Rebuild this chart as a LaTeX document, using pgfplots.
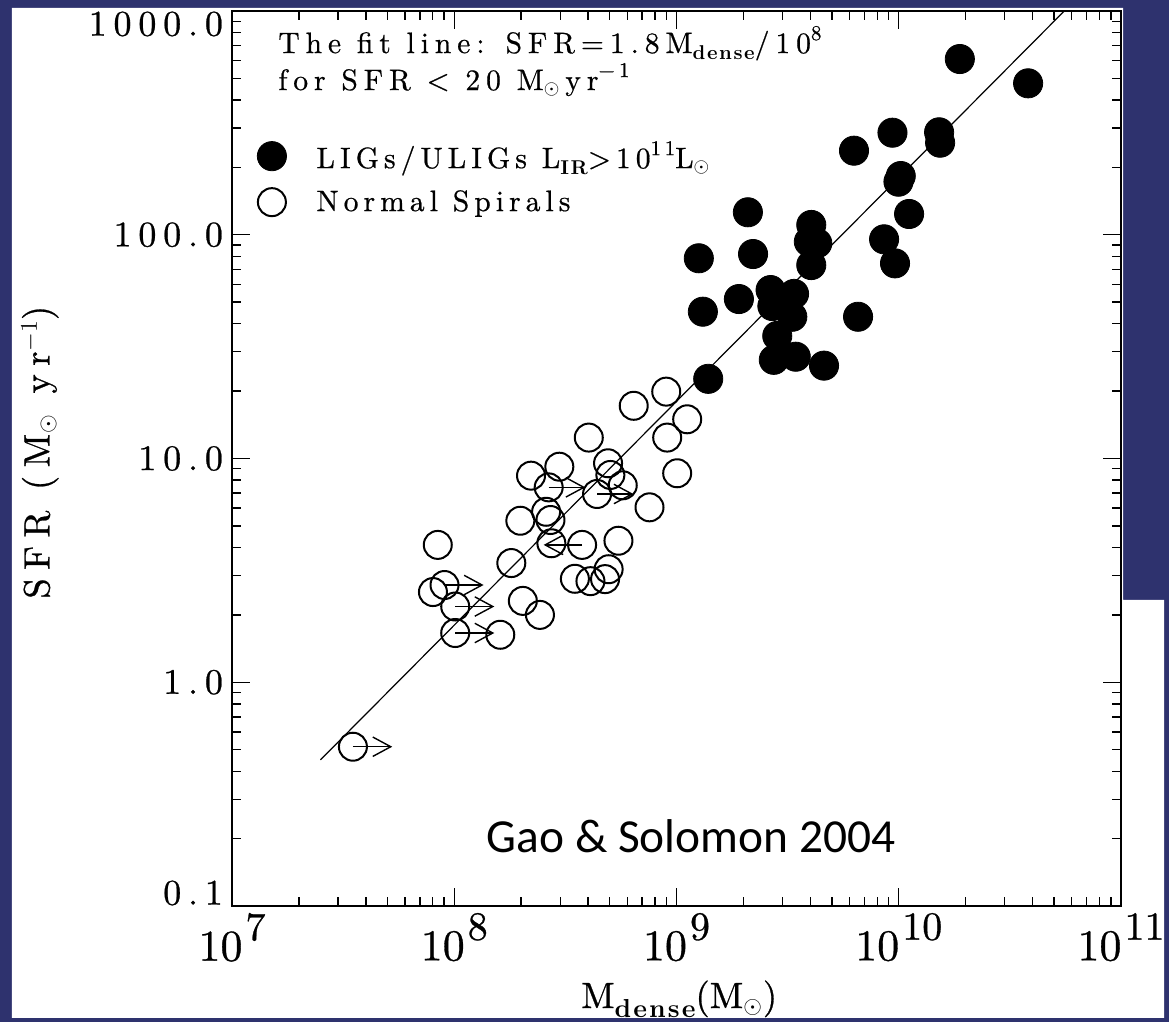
\documentclass[border=0pt]{standalone}
\usepackage{fontspec}
\usepackage{pgfplots}
\pgfplotsset{compat=1.18}
\usepackage{pgfplotstable}
\usetikzlibrary{arrows.meta}
\newfontfamily\calib{Carlito}
\newfontfamily\tickf{lmroman10-regular.otf}[LetterSpace=19, FakeBold=0.7]
\newfontfamily\xtickf{lmroman10-regular.otf}[FakeBold=0.7]
\newfontfamily\txtf{lmroman10-regular.otf}[LetterSpace=20, FakeBold=0.6]
\newfontfamily\legf{lmroman10-regular.otf}[LetterSpace=17, FakeBold=0.6]
\newfontfamily\labf{lmroman10-regular.otf}[LetterSpace=23, FakeBold=0.7]
\newfontfamily\subf{lmroman10-bold.otf}[LetterSpace=8]
\definecolor{bgblue}{RGB}{46,50,110}
\newcommand\tlx[1]{10\hspace{1.5pt}\raisebox{10.3pt}{\fontsize{20}{20}\selectfont #1}}
\newcommand\tsub[1]{\raisebox{-3pt}{\subf\fontsize{10}{10}\selectfont #1}}
\newcommand\tsup[1]{\raisebox{6.5pt}{\fontsize{10.5}{11}\selectfont #1}}

\pgfplotstableread{
x y
3.50e7 0.515
6.42e8 17.2
8.99e8 19.9
1.117e9 14.97
9.08e8 12.4
4.03e8 12.4
1.007e9 8.59
7.56e8 6.05
4.92e8 9.52
5.04e8 8.44
5.73e8 7.59
4.39e8 6.94
2.215e8 8.38
2.97e8 9.19
2.66e8 7.43
2.59e8 5.78
2.71e8 5.31
1.983e8 5.27
2.735e8 4.18
3.76e8 4.11
5.48e8 4.29
4.95e8 3.20
3.49e8 2.90
4.10e8 2.83
4.77e8 2.89
1.806e8 3.41
8.43e7 4.11
9.04e7 2.72
8.02e7 2.53
1.01e8 2.18
1.01e8 1.66
1.611e8 1.63
2.035e8 2.31
2.43e8 2.00
}\normalpts

\pgfplotstableread{
x y
2.095e9 126
1.26e9 78.5
2.21e9 82.0
4.04e9 110.6
3.94e9 93.1
4.30e9 91.6
4.04e9 73.2
1.113e10 123.8
8.59e9 95.4
9.62e9 74.5
1.314e9 45.3
1.909e9 51.6
2.65e9 56.6
3.38e9 54.4
2.70e9 48.0
3.32e9 43.0
2.84e9 35.3
2.74e9 27.6
3.44e9 28.5
4.61e9 26.0
6.56e9 43.0
1.389e9 22.7
1.883e10 610
3.82e10 475
9.37e9 285.8
6.29e9 237.5
1.519e10 287
1.535e10 257.8
1.021e10 183
9.97e9 172.6
}\ligpts

\begin{document}
\begin{tikzpicture}
\useasboundingbox (-116pt,-58pt) rectangle (468.5pt,453pt);
\clip (-116pt,-58pt) rectangle (468.5pt,453pt);
\fill[bgblue] (-116pt,-58pt) rectangle (468.5pt,453pt);
\fill[white] (-110pt,-56pt) -- (-110pt,449pt) -- (445.5pt,449pt) -- (445.5pt,153pt) -- (466pt,153pt) -- (466pt,-56pt) -- cycle;
\begin{axis}[
  at={(0pt,0pt)}, anchor=south west,
  scale only axis, width=444.5pt, height=447.5pt,
  xmode=log, ymode=log,
  xmin=1e7, xmax=1e11, ymin=0.1, ymax=1000,
  xtick={1e7,1e8,1e9,1e10,1e11},
  xticklabels={\tlx{7},\tlx{8},\tlx{9},\tlx{10},\tlx{11}},
  ytick={0.1,1,10,100,1000},
  yticklabels={\raisebox{6.5pt}[\height][\depth]{0.1},1.0,10.0,100.0,\raisebox{-6.5pt}[\height][\depth]{1000.0}},
  minor xtick={2e7,3e7,4e7,5e7,6e7,7e7,8e7,9e7,2e8,3e8,4e8,5e8,6e8,7e8,8e8,9e8,2e9,3e9,4e9,5e9,6e9,7e9,8e9,9e9,2e10,3e10,4e10,5e10,6e10,7e10,8e10,9e10},
  minor ytick={0.2,0.3,0.4,0.5,0.6,0.7,0.8,0.9,2,3,4,5,6,7,8,9,20,30,40,50,60,70,80,90,200,300,400,500,600,700,800,900},
  tick align=inside,
  major tick length=9pt, minor tick length=4.5pt,
  tick style={line width=0.7pt, black},
  axis line style={line width=1pt},
  xticklabel style={font=\xtickf\fontsize{22}{24}\selectfont},
  yticklabel style={font=\tickf\fontsize{18}{20}\selectfont, xshift=-1pt},
  xlabel={M\raisebox{-4.5pt}{\subf\fontsize{13}{13}\selectfont dense}(M$_\odot$)},
  xlabel style={font=\xtickf\fontsize{18.3}{20}\selectfont, at={(rel axis cs:0.503,-0.114)}, anchor=base},
  ylabel={SFR (M$_\odot$ yr$^{-1}$)},
  ylabel style={font=\labf\fontsize{18.3}{20}\selectfont, at={(rel axis cs:-0.216,0.507)}, anchor=center, rotate=0},
  legend style={at={(rel axis cs:0.028,0.855)}, anchor=north west, draw=none, fill=none,
    font=\legf\fontsize{14.8}{18}\selectfont, row sep=8.5pt, inner sep=0pt,
    nodes={inner sep=0pt}, column sep=15pt},
  legend cell align=left,
  legend image code/.code={\draw[#1] plot coordinates {(0pt,0pt)};},
]
\addplot[only marks, mark=*, mark size=7.3pt, black, mark options={fill=black, line width=0.4pt}] table {\ligpts};
\addlegendentry{LIGs/ULIGs L\tsub{IR}>10\tsup{11}L$_\odot$}
\addplot[only marks, mark=o, mark size=7pt, black, mark options={line width=1pt}] table {\normalpts};
\addlegendentry{Normal Spirals}
\addplot[black, line width=0.6pt, forget plot] coordinates {(2.5e7,0.45) (5.5556e10,1000)};
\pgfplotsset{every axis plot/.append style={forget plot}}
\addplot[black, line width=0.7pt, -{Straight Barb[length=9pt,width=9.7pt]}] coordinates {(3.50e7,0.515) (5.26e7,0.515)};
\addplot[black, line width=0.7pt, -{Straight Barb[length=9pt,width=9.7pt]}] coordinates {(9.04e7,2.72) (1.355e8,2.72)};
\addplot[black, line width=0.7pt, -{Straight Barb[length=9pt,width=9.7pt]}] coordinates {(1.01e8,2.18) (1.514e8,2.18)};
\addplot[black, line width=0.7pt, -{Straight Barb[length=9pt,width=9.7pt]}] coordinates {(1.01e8,1.66) (1.514e8,1.66)};
\addplot[black, line width=0.7pt, -{Straight Barb[length=9pt,width=9.7pt]}] coordinates {(4.39e8,6.94) (6.40e8,6.94)};
\addplot[black, line width=0.7pt, -{Straight Barb[length=9pt,width=9.7pt]}] coordinates {(2.66e8,7.43) (3.89e8,7.43)};
\addplot[black, line width=0.7pt, -{Straight Barb[length=9pt,width=9.7pt]}] coordinates {(3.76e8,4.11) (2.525e8,4.11)};
\node[anchor=base west, font=\txtf\fontsize{14.8}{18}\selectfont, inner sep=0pt] at (rel axis cs:0.0517,0.953) {The fit line: SFR=1.8M\tsub{dense}/10\tsup{8}};
\node[anchor=base west, font=\txtf\fontsize{14.8}{18}\selectfont, inner sep=0pt] at (rel axis cs:0.0517,0.9117) {for SFR < 20 M$_\odot$\,yr\tsup{−1}};
\node[anchor=base, font=\calib\fontsize{23.7}{28}\selectfont, inner sep=0pt] at (rel axis cs:0.5163,0.0596) {Gao \& Solomon 2004};
\end{axis}
\end{tikzpicture}
\end{document}
